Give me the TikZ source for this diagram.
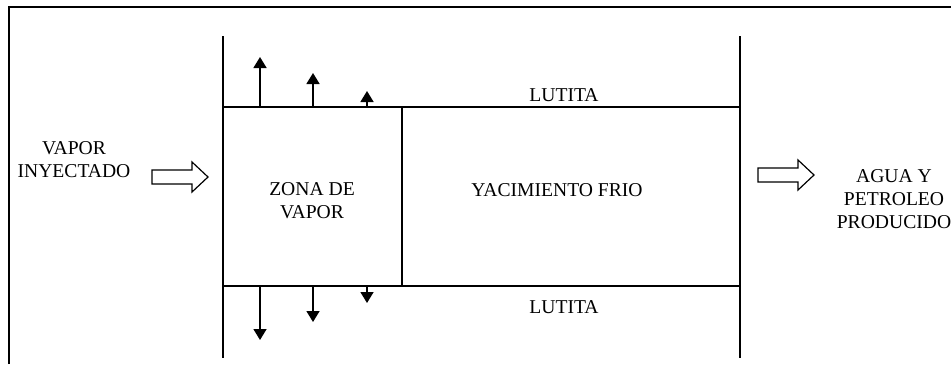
\documentclass[tikz,border=0pt]{standalone}
\usepackage{fontspec}
\setmainfont{Liberation Serif}
\usepackage{tikz}
\usetikzlibrary{arrows,arrows.meta}
\tikzset{%
    >={Triangle[width=6.5pt,length=5.5pt]},
    wall/.style={line width=0.8pt},
    label/.style={font=\fontsize{9.8}{11.4}\selectfont,align=center,inner sep=0pt},
    hollow/.style={line width=0.6pt,fill=white}
}

\begin{document}
\begin{tikzpicture}[x=0.5pt,y=-0.5pt]
      \useasboundingbox (0,0) rectangle (951,364);
      \draw[line width=1pt] (9,364) -- (9,7) -- (951,7);

      % capas
      \draw[wall] (223,36) -- (223,358);
      \draw[wall] (740,36) -- (740,358);
      \draw[wall] (223,107) -- (740,107);
      \draw[wall] (223,286) -- (740,286);
      \draw[wall] (402,107) -- (402,286);

      \node[label] (lutitaTop) at (564,95) {LUTITA};
      \node[label] (lutitaBot) at (564,307) {LUTITA};
      \node[label] (zona) at (312,201) {ZONA DE\\VAPOR};
      \node[label] (yacimiento) at (557,190) {YACIMIENTO FRIO};
      \node[label] (vapor) at (74,160) {VAPOR\\INYECTADO};
      \node[label] (agua) at (894,199) {AGUA Y\\PETROLEO\\PRODUCIDO};

      % perdidas de calor
      \coordinate (upA) at (260,107);
      \coordinate (upB) at (313,107);
      \coordinate (upC) at (367,107);
      \coordinate (dnA) at (260,286);
      \coordinate (dnB) at (313,286);
      \coordinate (dnC) at (367,286);
      \draw[wall,->] (upA) -- ++(0,-50);
      \draw[wall,->] (upB) -- ++(0,-34);
      \draw[wall,->] (upC) -- ++(0,-16);
      \draw[wall,->] (dnA) -- ++(0,54);
      \draw[wall,->] (dnB) -- ++(0,36);
      \draw[wall,->] (dnC) -- ++(0,17);

      % flechas de entrada y salida
      \draw[hollow] (152,170) -- (192,170) -- (192,162) -- (208,177)
          -- (192,192) -- (192,184) -- (152,184) -- cycle;
      \draw[hollow] (758,168) -- (798,168) -- (798,160) -- (814,175)
          -- (798,190) -- (798,182) -- (758,182) -- cycle;
\end{tikzpicture}
\end{document}
